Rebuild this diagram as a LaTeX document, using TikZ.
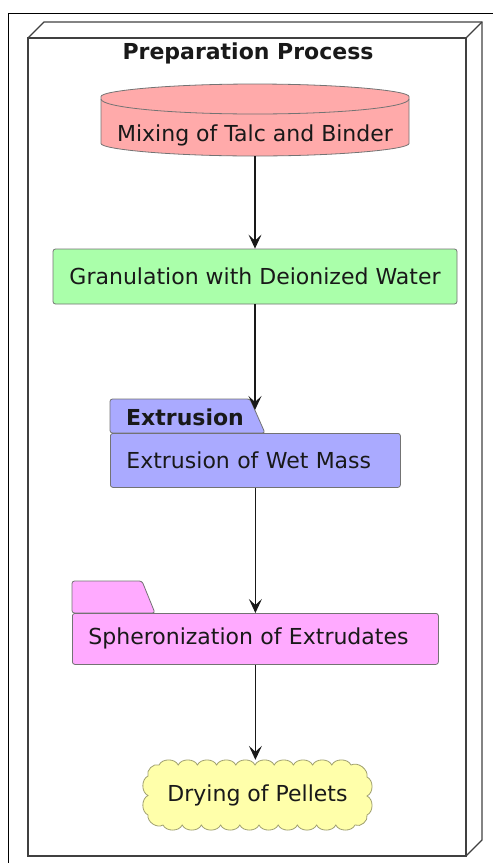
\documentclass[tikz,border=0pt]{standalone}
\usepackage{fontspec}
\setmainfont{DejaVu Sans}
\usetikzlibrary{arrows.meta}

\definecolor{mixfill}{HTML}{FFAAAA}
\definecolor{granfill}{HTML}{AAFFAA}
\definecolor{extfill}{HTML}{AAAAFF}
\definecolor{sphfill}{HTML}{FFAAFF}
\definecolor{dryfill}{HTML}{FFFFAA}
\definecolor{dryline}{HTML}{A0A070}
\newcommand\flowfont{\fontsize{22}{26}\selectfont}

\tikzset{
	box/.style={draw=black!55, line width=.8pt, rounded corners=2.5pt, inner xsep=16pt},
	tab/.style={draw=black!55, line width=.8pt, rounded corners=2.5pt},
	flow/.style={draw=black!90, line width=1.1pt, -{Stealth[length=14pt, width=13pt, inset=6pt]}},
	frame/.style={draw=black!75, line width=1.2pt},
}

\begin{document}
\begin{tikzpicture}[x=1pt, y=-1pt, font=\flowfont, text=black!90]
	\useasboundingbox (0,0) rectangle (493,863);
	% page frame
	\draw[line width=1pt] (8,863) -- (8,13) -- (493,13);
	% node box
	\draw[frame] (28,38) rectangle (466,856);
	\draw[frame] (28,38) -- (44,22) -- (482,22) -- (482,840) -- (466,856);
	\draw[frame] (466,38) -- (482,22);
	\node[font=\flowfont\bfseries] (title) at (248,53) {Preparation Process};

	% database
	\filldraw[tab, fill=mixfill] (101,99) -- (101,141)
		arc[start angle=180, end angle=0, x radius=154, y radius=15] -- (409,99)
		arc[start angle=0, end angle=-180, x radius=154, y radius=15] -- cycle;
	\draw[tab] (101,99) arc[start angle=180, end angle=0, x radius=154, y radius=15];
	\node (mixing) at (255,135) {Mixing of Talc and Binder};
	\coordinate (mixing base) at (255,156);

	\node[box, fill=granfill, minimum width=404pt, minimum height=55pt] (granulation) at (255,276.5) {Granulation with Deionized Water};

	% package
	\filldraw[tab, fill=extfill] (110,433) -- (110,399) -- (250,399) -- (265,433) -- cycle;
	\node[font=\flowfont\bfseries, anchor=west, inner sep=0pt] (extrusion title) at (126,417) {Extrusion};
	\node[box, fill=extfill, align=left, text width=258pt, minimum height=54pt, anchor=north west] (extrusion) at (110,433) {Extrusion of Wet Mass};
	\coordinate (extrusion tab) at (255,410);

	% folder
	\filldraw[tab, fill=sphfill] (72,613) -- (72,581) -- (142,581) -- (155,613) -- cycle;
	\node[box, fill=sphfill, align=left, text width=334pt, minimum height=51pt, anchor=north west] (spheronization) at (72,613) {Spheronization of Extrudates};

	% cloud
	\filldraw[fill=dryfill, draw=dryline, line width=.8pt] (148,776) to[bend left=65] (159,765)
		\foreach \k in {1,...,10} { to[bend left=65] (159+19.2*\k,765) }
		to[bend left=65] (367,777) to[bend left=65] (367,796) to[bend left=65] (367,815)
		to[bend left=65] (355,825)
		\foreach \k in {1,...,10} { to[bend left=65] (355-19.2*\k,825) }
		to[bend left=65] (148,815) to[bend left=65] (148,795.5) to[bend left=65] (148,776) -- cycle;
	\node[minimum width=229pt, minimum height=70pt] (drying) at (257.5,795) {Drying of Pellets};

	\draw[flow] (mixing base) -- (granulation.north);
	\draw[flow] (granulation.south) -- (extrusion tab);
	\draw[flow] (extrusion.south) -- (spheronization.north);
	\draw[flow] (spheronization.south) -- (spheronization.south |- drying.north);
\end{tikzpicture}
\end{document}
